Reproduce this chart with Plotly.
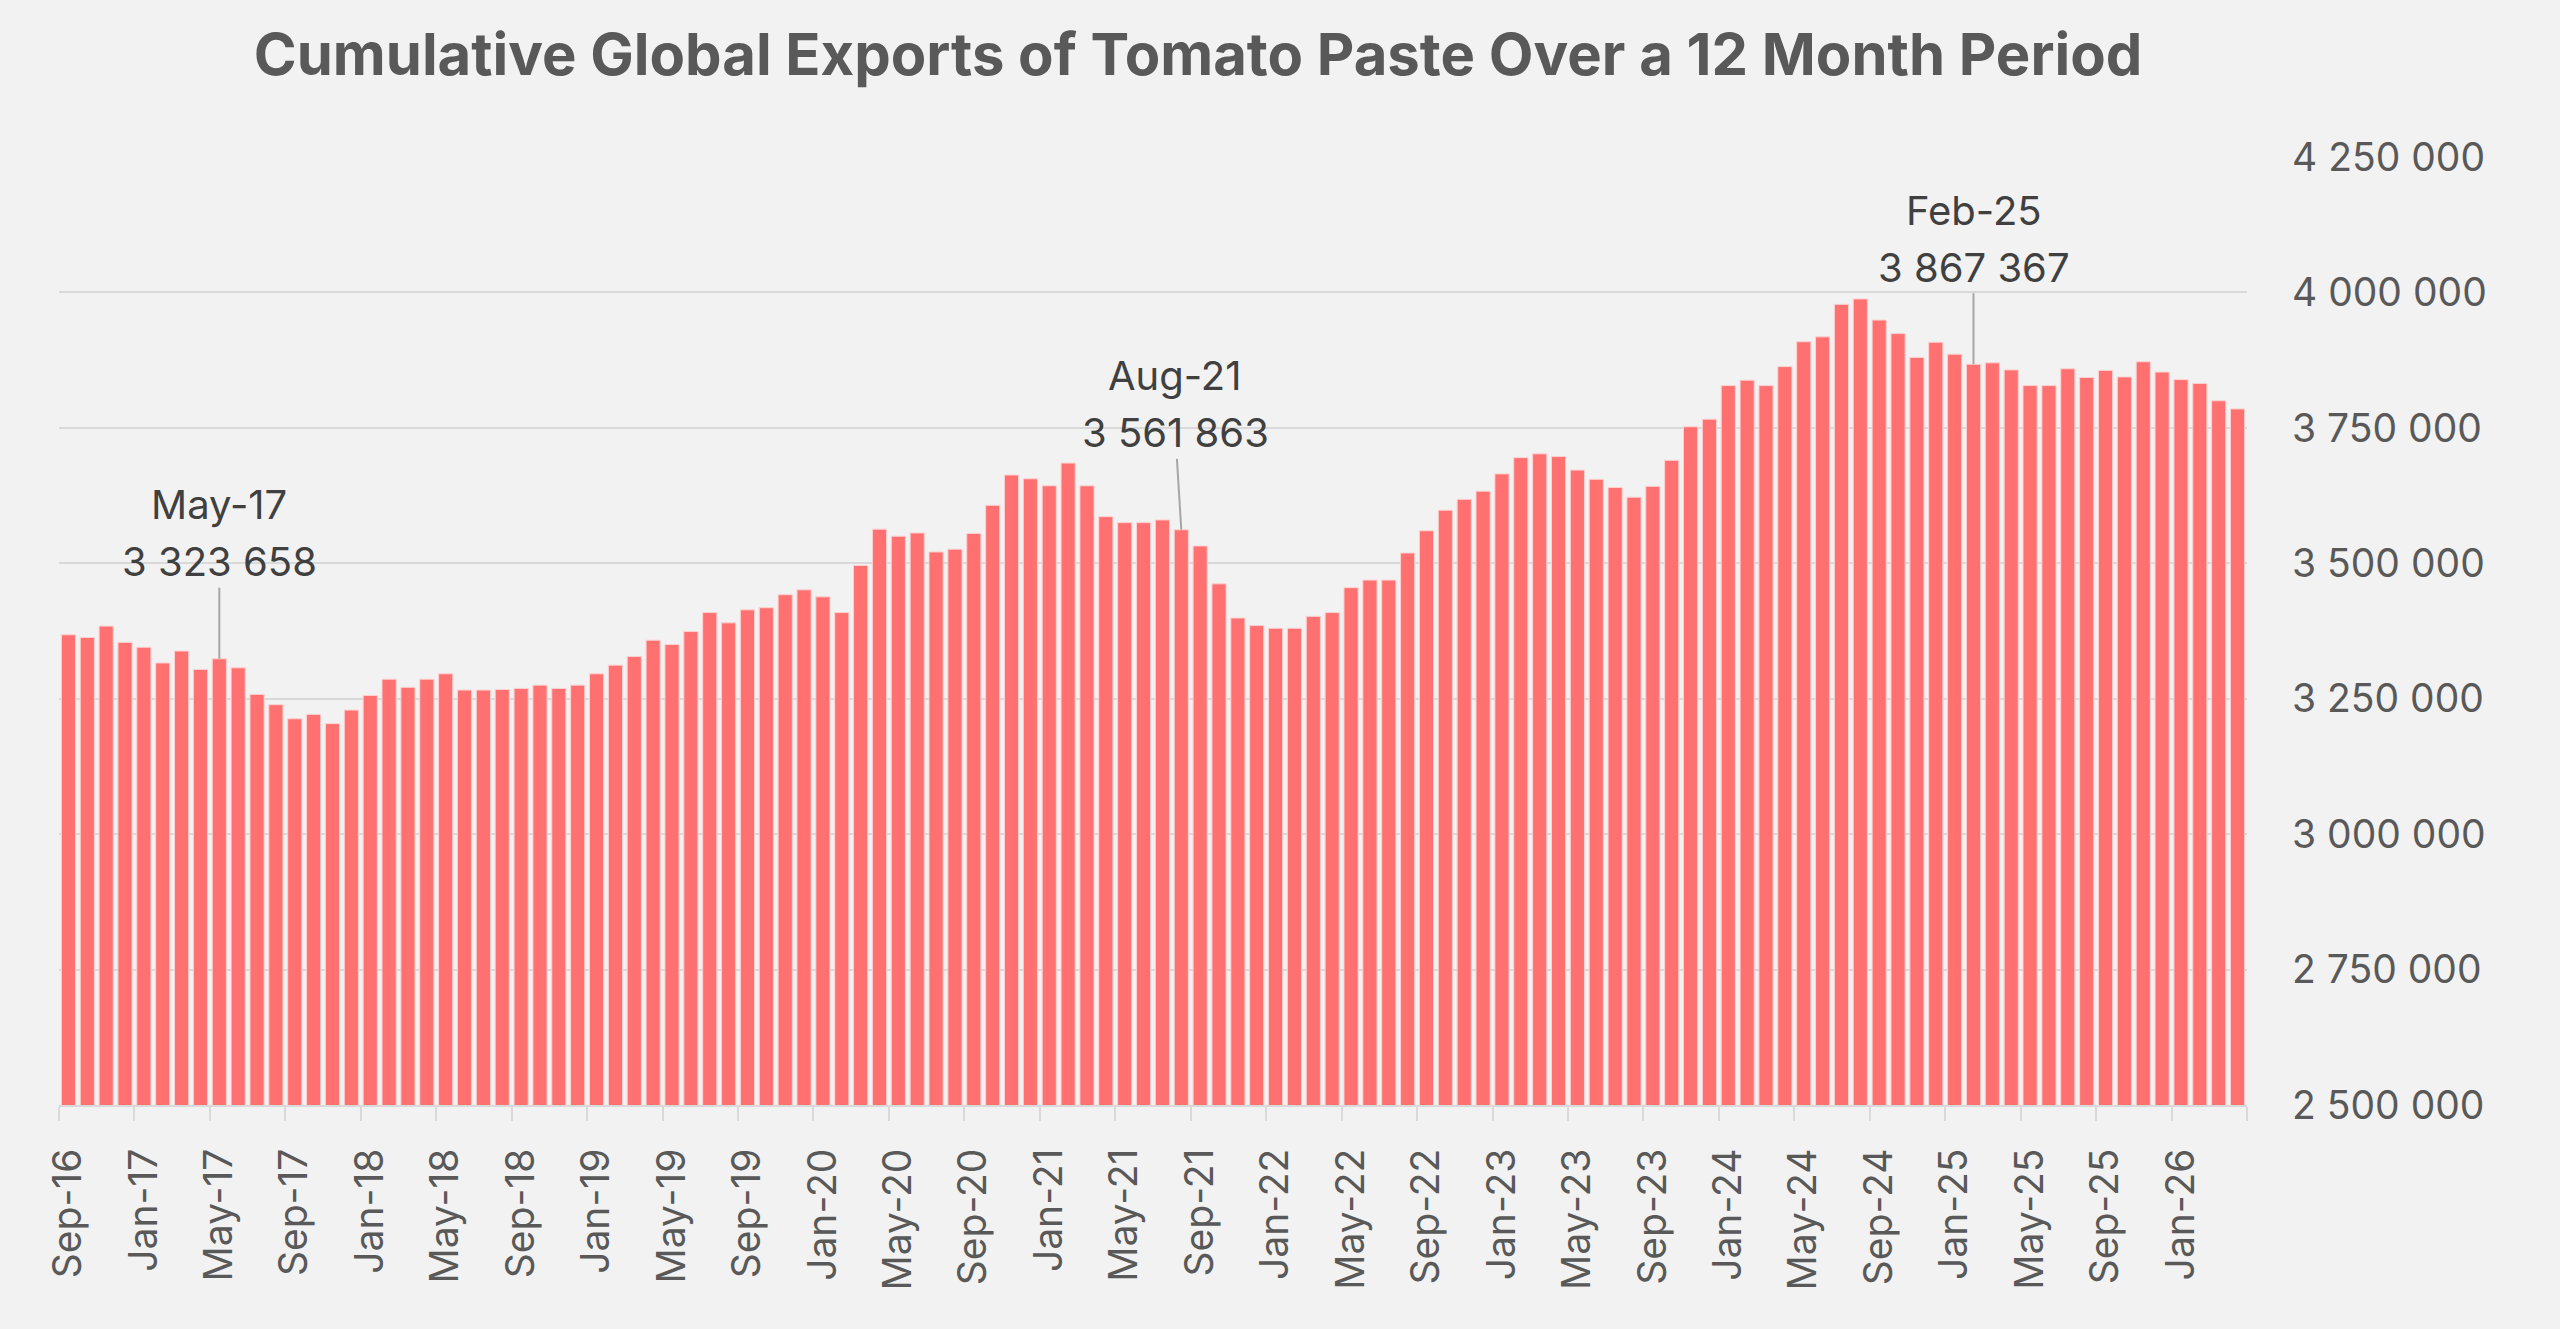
import plotly.graph_objects as go
import pandas as pd

# cumulative 12-month exports, one value per month starting Sep-16
exports = [
    3368000, 3363000, 3384000, 3354000, 3345000, 3316000, 3338000, 3304000,
    3323658, 3307000, 3258000, 3239000, 3213000, 3221000, 3204000, 3229000,
    3256000, 3286000, 3271000, 3286000, 3296000, 3266000, 3266000, 3267000,
    3269000, 3275000, 3269000, 3275000, 3296000, 3312000, 3328000, 3358000,
    3350000, 3374000, 3409000, 3390000, 3414000, 3418000, 3442000, 3451000,
    3438000, 3409000, 3496000, 3563000, 3550000, 3556000, 3521000, 3526000,
    3555000, 3607000, 3663000, 3656000, 3643000, 3685000, 3643000, 3586000,
    3575000, 3575000, 3580000, 3561863, 3532000, 3462000, 3399000, 3385000,
    3380000, 3380000, 3402000, 3409000, 3455000, 3469000, 3469000, 3519000,
    3560000, 3598000, 3618000, 3633000, 3665000, 3695000, 3702000, 3697000,
    3672000, 3655000, 3640000, 3622000, 3642000, 3690000, 3752000, 3766000,
    3828000, 3838000, 3828000, 3863000, 3909000, 3918000, 3978000, 3988000,
    3949000, 3924000, 3880000, 3908000, 3886000, 3867367, 3870000, 3857000,
    3828000, 3828000, 3859000, 3843000, 3856000, 3844000, 3872000, 3853000,
    3839000, 3832000, 3800000, 3785000,
]
months = list(pd.date_range("2016-09-01", periods=len(exports), freq="MS").strftime("%b-%y"))
callouts = ["May-17", "Aug-21", "Feb-25"]
callout_shift = [0, -6, 0]

pos = list(range(len(exports)))
label_pos = pos[::4]
tick_bounds = [p - 0.5 for p in label_pos] + [len(exports) - 0.5]

GREY = "#595959"
FONT = "Inter"

fig = go.Figure(
    go.Bar(
        x=pos,
        y=exports,
        marker=dict(color="#FF7171", line=dict(color="#FFD0D0", width=1)),
        hovertext=months,
    )
)

for name, shift in zip(callouts, callout_shift):
    i = months.index(name)
    # value line with the leader, month name a line above it
    fig.add_annotation(
        x=i,
        y=exports[i],
        text=f"{exports[i]:,}".replace(",", " "),
        showarrow=True,
        arrowhead=0,
        arrowwidth=2,
        arrowcolor="#A6A6A6",
        ax=shift,
        ay=-97,
        font=dict(family=FONT, size=40, color="#404040"),
    )
    fig.add_annotation(
        x=i,
        y=exports[i],
        text=name,
        showarrow=False,
        xshift=shift,
        yshift=154,
        font=dict(family=FONT, size=40, color="#404040"),
    )

fig.update_layout(
    width=2560,
    height=1329,
    paper_bgcolor="#F2F2F2",
    plot_bgcolor="#F2F2F2",
    margin=dict(l=59, r=313, t=157, b=224),
    bargap=0.25,
    showlegend=False,
    separators=". ",
    font=dict(family=FONT, size=39, color=GREY),
    title=dict(
        text="<b>Cumulative Global Exports of Tomato Paste Over a 12 Month Period</b>",
        x=0.468,
        xanchor="center",
        xref="container",
        y=0.959,
        yanchor="middle",
        yref="container",
        font=dict(family=FONT, size=58, color=GREY),
    ),
)

fig.update_xaxes(
    range=[-0.5, len(exports) - 0.5],
    tickmode="array",
    tickvals=label_pos,
    ticktext=months[::4],
    tickangle=-90,
    ticks="",
    ticklabelstandoff=26,
    showgrid=False,
    showline=True,
    linecolor="#D9D9D9",
    linewidth=2,
    zeroline=False,
    tickfont=dict(family=FONT, size=39, color=GREY),
    minor=dict(
        tickmode="array",
        tickvals=tick_bounds,
        ticks="outside",
        ticklen=14,
        tickwidth=2,
        tickcolor="#D9D9D9",
        showgrid=False,
    ),
)

fig.update_yaxes(
    side="right",
    range=[2500000, 4250000],
    tick0=2500000,
    dtick=250000,
    tickformat=",d",
    ticks="",
    ticklabelstandoff=44,
    showgrid=True,
    gridcolor="#D9D9D9",
    gridwidth=2,
    zeroline=False,
    tickfont=dict(family=FONT, size=39, color=GREY),
)

fig.write_html(
    "out.html",
    config={"displayModeBar": False},
    post_script="document.body.style.margin='0';document.body.style.overflow='hidden';",
)
